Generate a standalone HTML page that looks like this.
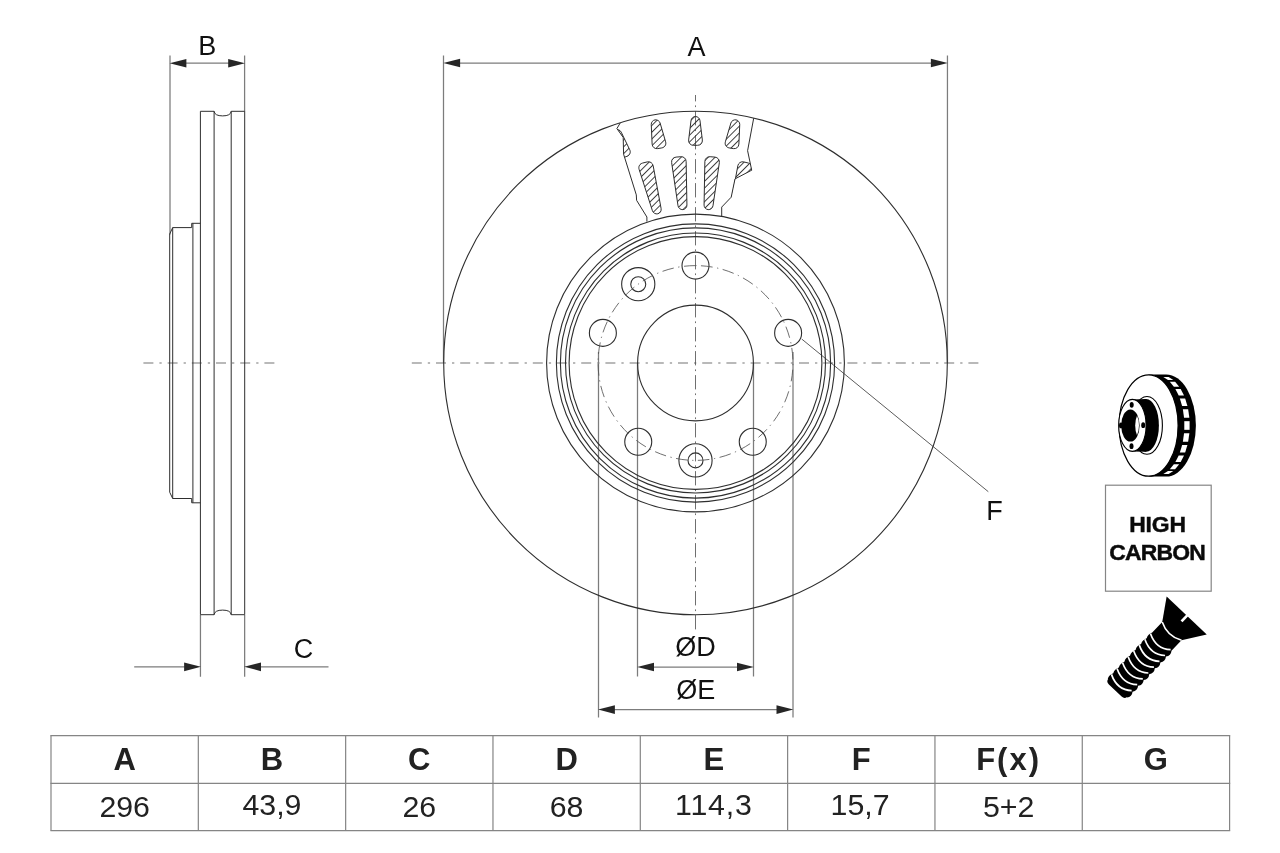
<!DOCTYPE html>
<html lang="en"><head><meta charset="utf-8"><title>Brake disc drawing</title>
<style>html,body{margin:0;padding:0;background:#fff}body{width:1280px;height:853px;overflow:hidden}svg{display:block;will-change:transform}text{font-family:"Liberation Sans",Arial,sans-serif}</style></head><body>
<svg width="1280" height="853" viewBox="0 0 1280 853">
<rect width="1280" height="853" fill="#fff"/>
<g fill="none" stroke="#a3a3a3" stroke-width="1.5" stroke-dasharray="10 6 2.3 5.9"><path d="M143.4 363H274.6"/><path d="M411.8 363H979"/></g>
<g fill="none" stroke="#555" stroke-width="0.85" stroke-dasharray="14.3 4 1.7 4"><path d="M695.5 629.4V95" stroke-dashoffset="0"/></g>
<g fill="none" stroke="#7c7c7c" stroke-width="1.25"><path d="M170 55.4V234.4M244.6 55.4V111.6M180 63.2H234"/><path d="M200.45 615V676.7M244.65 615V676.7M134.2 666.85H190M255 666.85H328.5"/><path d="M443.5 55.4V363M947.45 55.4V363M455 63H936"/><path d="M637.5 363V676.4M753.5 363V676.4M650 667H741"/><path d="M598.5 352V717.5M793 352V717.5M610 709.5H781"/></g><path d="M801.8 339.1L988.3 491.7" stroke="#4a4a4a" stroke-width="0.9" fill="none"/><g fill="#262626" stroke="none"><path d="M169.6 63.2L186.4 58.9V67.5Z"/><path d="M245 63.2L228.2 58.9V67.5Z"/><path d="M200.9 666.85L184.1 662.55V671.15Z"/><path d="M244.2 666.85L261 662.55V671.15Z"/><path d="M443.3 63L460.1 58.7V67.3Z"/><path d="M947.7 63L930.9 58.7V67.3Z"/><path d="M637.2 667L654 662.7V671.3Z"/><path d="M753.8 667L737 662.7V671.3Z"/><path d="M598.1 709.6L614.9 705.3V713.9Z"/><path d="M793.3 709.6L776.5 705.3V713.9Z"/></g>
<g fill="none" stroke="#2e2e2e" stroke-width="1"><path d="M200.4 614.7V111.3H214.1M231.2 111.3H244.7V614.7H231.2M214.1 614.7H200.4"/><path d="M214.1 111.3V614.7M231.2 111.3V614.7"/><path d="M214.1 111.3Q214.7 115.89999999999999 222.64999999999998 115.89999999999999Q230.6 115.89999999999999 231.2 111.3"/><path d="M214.1 614.7Q214.7 610.1 222.64999999999998 610.1Q230.6 610.1 231.2 614.7"/><path d="M200.4 223.3H191.7V227.6H172.7L169.7 234.0V492.2L172.7 498.5H191.7V502.8H200.4"/><path d="M172.7 227.6V498.5M192.89999999999998 223.3V502.8"/></g>
<g fill="none" stroke="#2e2e2e" stroke-width="1.1"><circle cx="695.5" cy="363.0" r="251.8"/><circle cx="695.5" cy="363.0" r="148.9"/><circle cx="695.5" cy="363.0" r="139.1"/><circle cx="695.5" cy="363.0" r="135.1"/><circle cx="695.5" cy="363.0" r="130.0"/><circle cx="695.5" cy="363.0" r="126.4"/><circle cx="695.5" cy="363.0" r="57.9"/><circle cx="695.5" cy="265.6" r="13.5"/><circle cx="788.13" cy="332.9" r="13.5"/><circle cx="752.75" cy="441.8" r="13.5"/><circle cx="638.25" cy="441.8" r="13.5"/><circle cx="602.87" cy="332.9" r="13.5"/><circle cx="638.25" cy="284.2" r="16.6"/><circle cx="638.25" cy="284.2" r="7.5"/><circle cx="695.5" cy="460.4" r="16.6"/><circle cx="695.5" cy="460.4" r="7.5"/></g><path d="M695.5 265.6A97.4 97.4 0 1 0 695.5 460.4A97.4 97.4 0 1 0 695.5 265.6" fill="none" stroke="#555" stroke-width="0.85" stroke-dasharray="11.6 4.55 1.3 4.55"/>
<defs><pattern id="hatch" width="4.8" height="4.8" patternUnits="userSpaceOnUse" patternTransform="rotate(-45)"><path d="M0 2.4H4.8" stroke="#2e2e2e" stroke-width="0.9"/></pattern><clipPath id="cut"><path d="M620.2 123L616.9 128.6L623.2 137.4L623.6 154.2L636.3 194.9L636.6 200.3L646.9 217L646.9 221.6L721.7 216.2L721.7 207.1L731.2 197.2L735 178.9L751.7 170.2L747.6 150.7L753.7 118.2L760 100L610 100Z"/></clipPath></defs><g fill="none" stroke="#2e2e2e" stroke-width="1"><path d="M620.2 123L616.9 128.6L623.2 137.4L623.6 154.2L636.3 194.9L636.6 200.3L646.9 217L646.9 221.6"/><path d="M753.7 118.2L747.6 150.7L751.7 170.2L735 178.9L731.2 197.2L721.7 207.1L721.7 216.2"/></g><g fill="url(#hatch)" stroke="#2e2e2e" stroke-width="1" clip-path="url(#cut)"><path d="M612.7 135C612.24 132.85 613.57 130.5 615.65 129.79L615.65 129.79C617.74 129.08 620.22 130.11 621.18 132.09L629.73 149.75C631.02 152.42 629.78 155.39 626.97 156.36L623 157.72C620.19 158.68 617.38 157.09 616.77 154.18Z"/><path d="M651.26 124.5C651.16 122.3 652.86 120.21 655.03 119.85L655.03 119.85C657.2 119.48 659.48 120.92 660.1 123.03L665.63 141.84C666.47 144.69 664.76 147.42 661.83 147.91L657.69 148.6C654.76 149.09 652.25 147.06 652.12 144.09Z"/><path d="M691.02 120.47C691.28 118.29 693.3 116.5 695.5 116.5L695.5 116.5C697.7 116.5 699.72 118.29 699.98 120.47L702.35 139.94C702.71 142.89 700.57 145.3 697.6 145.3L693.4 145.3C690.43 145.3 688.29 142.89 688.65 139.94Z"/><path d="M730.9 123.03C731.52 120.92 733.8 119.48 735.97 119.85L735.97 119.85C738.14 120.21 739.84 122.3 739.74 124.5L738.88 144.09C738.75 147.06 736.24 149.09 733.31 148.6L729.17 147.91C726.24 147.42 724.53 144.69 725.37 141.84Z"/><path d="M639.08 169.31C638.21 166.59 639.76 163.78 642.53 163.08L647.18 161.91C649.96 161.21 652.65 162.94 653.17 165.75L661.12 208.63C661.54 210.9 660.05 213.22 657.81 213.79L657.81 213.79C655.57 214.35 653.16 213.02 652.45 210.82Z"/><path d="M671.65 162.67C671.23 159.84 673.22 157.34 676.07 157.1L680.86 156.71C683.71 156.47 686.08 158.62 686.13 161.48L686.93 205.08C686.97 207.39 685.12 209.43 682.82 209.62L682.82 209.62C680.52 209.81 678.36 208.1 678.02 205.81Z"/><path d="M704.87 161.48C704.92 158.62 707.29 156.47 710.14 156.71L714.93 157.1C717.78 157.34 719.77 159.84 719.35 162.67L712.98 205.81C712.64 208.1 710.48 209.81 708.18 209.62L708.18 209.62C705.88 209.43 704.03 207.39 704.07 205.08Z"/><path d="M737.83 165.75C738.35 162.94 741.04 161.21 743.82 161.91L748.47 163.08C751.24 163.78 752.79 166.59 751.92 169.31L738.55 210.82C737.84 213.02 735.43 214.35 733.19 213.79L733.19 213.79C730.95 213.22 729.46 210.9 729.88 208.63Z"/></g>
<g font-family="'Liberation Sans', Arial, sans-serif" font-size="27" fill="#111" text-anchor="middle"><text x="207.3" y="55">B</text><text x="303.4" y="658.2">C</text><text x="696.5" y="55.6">A</text><text x="994.6" y="520">F</text><text x="695.4" y="655.8">ØD</text><text x="695.8" y="699">ØE</text></g>
<g fill="none" stroke="#858585" stroke-width="1.2"><path d="M50.4 735.6H1230.1999999999998M50.4 783.3H1230.1999999999998M50.4 830.6H1230.1999999999998"/><path d="M51.0 735.6V830.6M198.32 735.6V830.6M345.65 735.6V830.6M492.97 735.6V830.6M640.3 735.6V830.6M787.62 735.6V830.6M934.95 735.6V830.6M1082.27 735.6V830.6M1229.6 735.6V830.6"/></g><g font-family="'Liberation Sans', Arial, sans-serif" fill="#222" text-anchor="middle"><text x="124.66" y="770.0" font-size="31" font-weight="bold">A</text><text x="271.99" y="770.0" font-size="31" font-weight="bold">B</text><text x="419.31" y="770.0" font-size="31" font-weight="bold">C</text><text x="566.63" y="770.0" font-size="31" font-weight="bold">D</text><text x="713.96" y="770.0" font-size="31" font-weight="bold">E</text><text x="861.29" y="770.0" font-size="31" font-weight="bold">F</text><text x="1008.61" y="770.0" font-size="31" font-weight="bold" letter-spacing="2">F(x)</text><text x="1155.93" y="770.0" font-size="31" font-weight="bold">G</text><text x="124.66" y="816.8" font-size="30.3">296</text><text x="271.99" y="814.8" font-size="30.3">43,9</text><text x="419.31" y="816.8" font-size="30.3">26</text><text x="566.63" y="816.8" font-size="30.3">68</text><text x="713.86" y="814.8" font-size="30.3" letter-spacing="0.8">114,3</text><text x="860.09" y="814.8" font-size="30.3">15,7</text><text x="1008.61" y="816.8" font-size="30.3">5+2</text></g>
<g><path d="M1148.6 374.4H1166.1A29.8 51.1 0 0 1 1166.1 476.6H1148.6Z" fill="#000"/><ellipse cx="1148.6" cy="425.5" rx="29.5" ry="50.7" fill="#fff" stroke="#000" stroke-width="1.2"/><path d="M1163.33 376.91L1168.63 376.91L1173.32 380.09L1168.02 380.09Z" fill="#fff"/><path d="M1169.78 381.73L1175.08 381.73L1179.2 386.72L1173.9 386.72Z" fill="#fff"/><path d="M1175.39 389.03L1180.69 389.03L1184.01 395.56L1178.71 395.56Z" fill="#fff"/><path d="M1179.84 398.41L1185.14 398.41L1187.45 406.1L1182.15 406.1Z" fill="#fff"/><path d="M1182.86 409.33L1188.16 409.33L1189.35 417.74L1184.05 417.74Z" fill="#fff"/><path d="M1184.29 421.17L1189.59 421.17L1189.59 429.83L1184.29 429.83Z" fill="#fff"/><path d="M1184.05 433.26L1189.35 433.26L1188.16 441.67L1182.86 441.67Z" fill="#fff"/><path d="M1182.15 444.9L1187.45 444.9L1185.14 452.59L1179.84 452.59Z" fill="#fff"/><path d="M1178.71 455.44L1184.01 455.44L1180.69 461.97L1175.39 461.97Z" fill="#fff"/><path d="M1173.9 464.28L1179.2 464.28L1175.08 469.27L1169.78 469.27Z" fill="#fff"/><path d="M1168.02 470.91L1173.32 470.91L1168.63 474.09L1163.33 474.09Z" fill="#fff"/><ellipse cx="1147" cy="425.4" rx="15.4" ry="28.9" fill="#fff" stroke="#000" stroke-width="1.1"/><ellipse cx="1146.1" cy="425.4" rx="12.8" ry="26.3" fill="#000"/><path d="M1132 399.4L1146.1 399.1V451.7L1132 451.4Z" fill="#000"/><ellipse cx="1132.4" cy="425.4" rx="13.7" ry="26" fill="#fff" stroke="#000" stroke-width="1.1"/><clipPath id="bore"><ellipse cx="1130.4" cy="425.5" rx="8.6" ry="15.5"/></clipPath><ellipse cx="1130.4" cy="425.5" rx="9.2" ry="16.1" fill="#000"/><ellipse cx="1141.2" cy="425.5" rx="6" ry="13.3" fill="#fff" clip-path="url(#bore)"/><ellipse cx="1131.7" cy="404.8" rx="2" ry="2.9" fill="#000"/><ellipse cx="1143.2" cy="425.2" rx="2" ry="2.9" fill="#000"/><ellipse cx="1131.5" cy="446.2" rx="2" ry="2.9" fill="#000"/><ellipse cx="1121" cy="425.4" rx="2" ry="2.9" fill="#000"/></g>
<rect x="1105.5" y="485.2" width="105.7" height="106" fill="#fff" stroke="#858585" stroke-width="1.2"/>
<g font-family="'Liberation Sans', Arial, sans-serif" font-size="22.9" font-weight="bold" fill="#0a0a0a" stroke="#0a0a0a" stroke-width="0.45" text-anchor="middle"><text x="1157.5" y="532.3" letter-spacing="-0.2">HIGH</text><text x="1157.2" y="560.1" letter-spacing="-0.8">CARBON</text></g>
<g transform="translate(1186.7 615.5) rotate(133.6)"><path d="M0 -27.7L0 27.7L21.5 13.3L21.5 -13.3Z" fill="#000"/><path d="M20.5 -13.3L36.0 -13.3Q40.04 -16.5 44.08 -13.3Q48.11 -16.5 52.15 -13.3Q56.19 -16.5 60.22 -13.3Q64.26 -16.5 68.3 -13.3Q72.34 -16.5 76.38 -13.3Q80.41 -16.5 84.45 -13.3Q88.49 -16.5 92.52 -13.3Q96.56 -16.5 100.6 -13.3L100.1 -13.0Q103.6 -12.700000000000001 103.6 -8.8L103.6 8.8Q103.6 12.700000000000001 100.1 13.0L100.6 13.3Q96.56 15.5 92.52 13.3Q88.49 15.5 84.45 13.3Q80.41 15.5 76.37 13.3Q72.34 15.5 68.3 13.3Q64.26 15.5 60.22 13.3Q56.19 15.5 52.15 13.3Q48.11 15.5 44.08 13.3Q40.04 15.5 36 13.3L20.5 13.3Z" fill="#000"/><path d="M21.5 -13.3Q28.5 0 21.5 13.3" fill="none" stroke="#fff" stroke-width="1.6"/><path d="M35.8 -11.9Q45.6 -1 38 13.9" fill="none" stroke="#fff" stroke-width="1.7"/><path d="M43.88 -11.9Q53.68 -1 46.08 13.9" fill="none" stroke="#fff" stroke-width="1.7"/><path d="M51.95 -11.9Q61.75 -1 54.15 13.9" fill="none" stroke="#fff" stroke-width="1.7"/><path d="M60.02 -11.9Q69.82 -1 62.22 13.9" fill="none" stroke="#fff" stroke-width="1.7"/><path d="M68.1 -11.9Q77.9 -1 70.3 13.9" fill="none" stroke="#fff" stroke-width="1.7"/><path d="M76.17 -11.9Q85.97 -1 78.38 13.9" fill="none" stroke="#fff" stroke-width="1.7"/><path d="M84.25 -11.9Q94.05 -1 86.45 13.9" fill="none" stroke="#fff" stroke-width="1.7"/><path d="M92.32 -11.9Q102.12 -1 94.52 13.9" fill="none" stroke="#fff" stroke-width="1.7"/><path d="M-0.5 -0.3L7.8 -0.3" stroke="#fff" stroke-width="2.7" fill="none"/></g>
</svg>
</body></html>
